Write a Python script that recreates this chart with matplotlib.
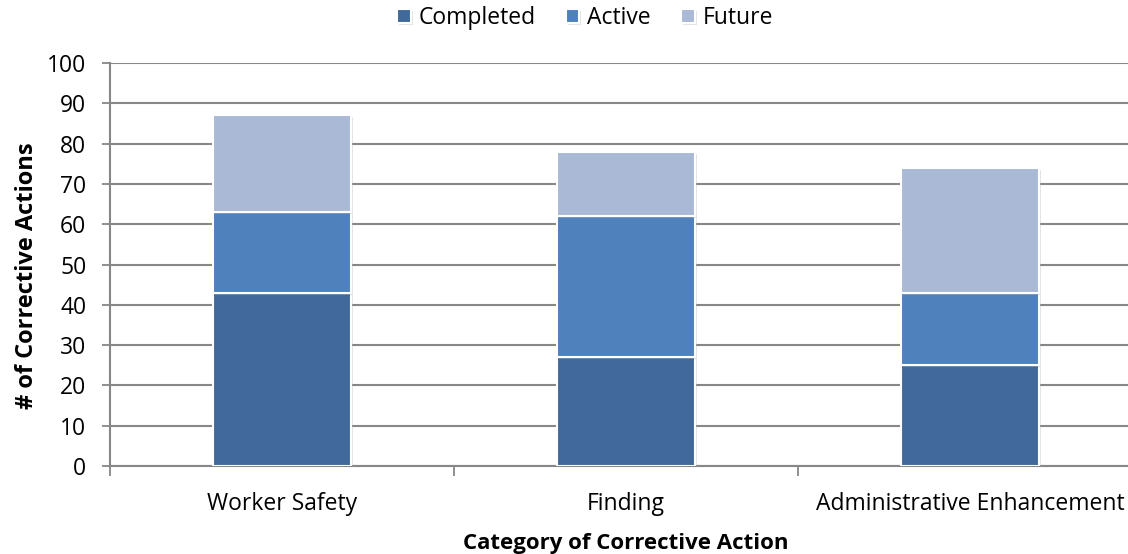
import matplotlib
matplotlib.use("Agg")
import matplotlib.pyplot as plt
import matplotlib.patheffects as pe
import numpy as np

categories = ["Worker Safety", "Finding", "Administrative Enhancement"]
completed = [43, 27, 25]
active = [20, 35, 18]
future = [24, 16, 31]
series_names = ["Completed", "Active", "Future"]
colors = ["#416A9B", "#4F81BD", "#AAB9D6"]

plt.rcParams['font.family'] = ['Open Sans', 'DejaVu Sans']

W, H = 1128, 554
fig = plt.figure(figsize=(W / 100, H / 100), dpi=100)
left = 110 / W
right = 1142 / W
bottom = 1 - 466 / H
top = 1 - 63 / H
ax = fig.add_axes([left, bottom, right - left, top - bottom])

x = np.arange(len(categories))
bottoms = np.zeros(len(categories))
handles = []
for vals, name, c in zip([completed, active, future], series_names, colors):
    b = ax.bar(x, vals, width=0.4, bottom=bottoms, color=c, edgecolor="white",
               linewidth=1.5, label=name, zorder=3)
    for p in b:
        p.set_path_effects([pe.SimplePatchShadow(offset=(1.5, -1.5), shadow_rgbFace="#b0b0b0", alpha=0.35),
                            pe.Normal()])
    handles.append(b)
    bottoms += np.array(vals)

ax.set_xlim(-0.5, len(categories) - 0.5)
ax.set_ylim(0, 100)
ax.set_yticks(range(0, 101, 10))
ax.tick_params(axis='y', labelsize=16.5, length=6, width=1.3, color="#878787", pad=11)
ax.set_xticks(x)
ax.set_xticklabels(categories, fontsize=16.5)
ax.tick_params(axis='x', length=0, pad=19)
ax.set_xticks(np.arange(-0.5, len(categories), 1), minor=True)
ax.tick_params(axis='x', which='minor', length=7, width=1.3, color="#878787")

ax.yaxis.grid(True, color="#878787", linewidth=1.5, zorder=0)
ax.set_axisbelow(True)
for s in ["top", "right"]:
    ax.spines[s].set_visible(False)
for s in ["left", "bottom"]:
    ax.spines[s].set_color("#878787")
    ax.spines[s].set_linewidth(1.5)

ax.set_ylabel("# of Corrective Actions", fontsize=17, fontweight="bold")
ax.yaxis.set_label_coords((27 - 110) / (1142 - 110), (466 - 276) / (466 - 63))
ax.yaxis.label.set_va("center")
ax.set_xlabel("Category of Corrective Action", fontsize=16, fontweight="bold")
ax.xaxis.set_label_coords(0.5, -(543 - 466) / (466 - 63))
ax.xaxis.label.set_va("center")

fig.legend(handles=handles, labels=series_names, loc="center", bbox_to_anchor=(585 / W, 1 - 18 / H),
           ncol=3, frameon=False, fontsize=16.5, handlelength=0.6, handleheight=0.6,
           handletextpad=0.35, columnspacing=1.3)

fig.savefig("out.png", dpi=100)
